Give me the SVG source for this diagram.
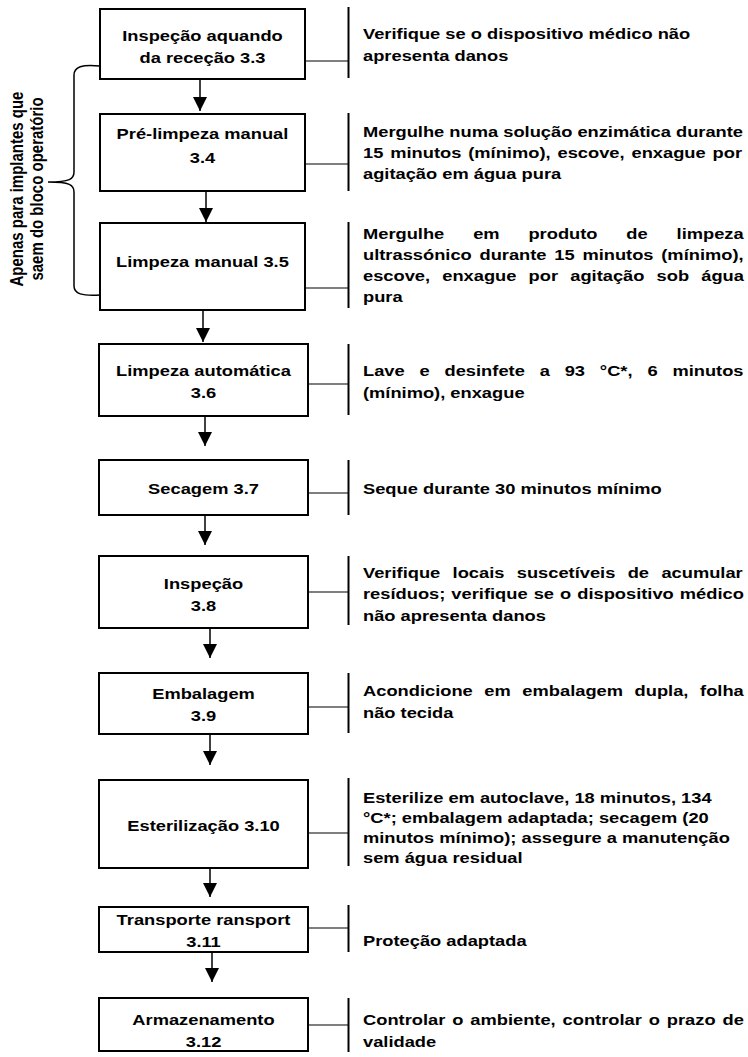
<svg xmlns="http://www.w3.org/2000/svg" width="748" height="1057" viewBox="0 0 748 1057">
  <style>
    .box { fill: #fff; stroke: #000; stroke-width: 2; }
    .t { font-family: "Liberation Sans", Arial, sans-serif; font-weight: bold; font-size: 15px; fill: #000; }
    .c { text-anchor: middle; }
    .conn { stroke: #000; stroke-width: 1.2; fill: none; }
    .bar { stroke: #000; stroke-width: 2; fill: none; }
    .shaft { stroke: #000; stroke-width: 1.5; fill: none; marker-end: url(#ah); }
    .brace { stroke: #000; stroke-width: 1.5; fill: none; }
  </style>
  <defs>
    <marker id="ah" viewBox="0 0 14 14" refX="14" refY="7" markerWidth="15" markerHeight="14" markerUnits="userSpaceOnUse" orient="auto">
      <path d="M0,0 L14,7 L0,14 z" fill="#000"/>
    </marker>
  </defs>

  <rect width="748" height="1057" fill="#fff"/>

  <!-- side note with brace spanning the first three steps -->
  <g id="note">
    <path class="brace" d="M100,66 C82,64 74,67 74,75 V172 C74,179 70,182 48,182 M48,182 C70,182 74,185 74,192 V286 C74,294 82,296 100,295"/>
    <g transform="translate(0 189) scale(1.22 1) rotate(-90)">
      <text class="t c" x="0" y="18.5">Apenas para implantes que</text>
      <text class="t c" x="0" y="35">saem do bloco operatório</text>
    </g>
  </g>

  <!-- flow arrows and side connectors -->
  <g id="connectors">
    <line class="shaft" x1="200" y1="80" x2="200" y2="111"/>
    <line class="shaft" x1="206" y1="192" x2="206" y2="222"/>
    <line class="shaft" x1="203" y1="311" x2="203" y2="342"/>
    <line class="shaft" x1="205" y1="417" x2="205" y2="446"/>
    <line class="shaft" x1="205" y1="516" x2="205" y2="545"/>
    <line class="shaft" x1="210" y1="629" x2="210" y2="658"/>
    <line class="shaft" x1="210" y1="735" x2="210" y2="765"/>
    <line class="shaft" x1="210" y1="869" x2="210" y2="897"/>
    <line class="shaft" x1="212" y1="953" x2="212" y2="982"/>

    <line class="conn" x1="305" y1="61" x2="348" y2="61"/>
    <line class="conn" x1="305" y1="164" x2="348" y2="164"/>
    <line class="conn" x1="305" y1="288" x2="348" y2="288"/>
    <line class="conn" x1="308" y1="384" x2="348" y2="384"/>
    <line class="conn" x1="308" y1="493" x2="348" y2="493"/>
    <line class="conn" x1="308" y1="592" x2="348" y2="592"/>
    <line class="conn" x1="308" y1="707" x2="348" y2="707"/>
    <line class="conn" x1="308" y1="833" x2="348" y2="833"/>
    <line class="conn" x1="308" y1="928" x2="348" y2="928"/>
    <line class="conn" x1="308" y1="1025" x2="348" y2="1025"/>

    <line class="bar" x1="348.5" y1="7" x2="348.5" y2="78"/>
    <line class="bar" x1="348.5" y1="113" x2="348.5" y2="191"/>
    <line class="bar" x1="348.5" y1="222" x2="348.5" y2="308"/>
    <line class="bar" x1="348.5" y1="344" x2="348.5" y2="415"/>
    <line class="bar" x1="348.5" y1="460" x2="348.5" y2="515"/>
    <line class="bar" x1="348.5" y1="556" x2="348.5" y2="625"/>
    <line class="bar" x1="348.5" y1="673" x2="348.5" y2="733"/>
    <line class="bar" x1="348.5" y1="778" x2="348.5" y2="866"/>
    <line class="bar" x1="348.5" y1="905" x2="348.5" y2="952"/>
    <line class="bar" x1="348.5" y1="998" x2="348.5" y2="1052"/>
  </g>

  <!-- process steps -->
  <g id="step-3-3">
    <rect class="box" x="100" y="9" width="205" height="70"/>
    <g transform="translate(202.5 0) scale(1.22 1)">
      <text class="t c" x="0" y="41.5">Inspeção aquando</text>
      <text class="t c" x="0" y="63">da receção 3.3</text>
    </g>
  </g>
  <g id="step-3-4">
    <rect class="box" x="100" y="114" width="205" height="77"/>
    <g transform="translate(202.5 0) scale(1.22 1)">
      <text class="t c" x="0" y="139">Pré-limpeza manual</text>
      <text class="t c" x="0" y="163">3.4</text>
    </g>
  </g>
  <g id="step-3-5">
    <rect class="box" x="100" y="223" width="205" height="87"/>
    <g transform="translate(202.5 0) scale(1.22 1)">
      <text class="t c" x="0" y="267">Limpeza manual 3.5</text>
    </g>
  </g>
  <g id="step-3-6">
    <rect class="box" x="99" y="344" width="209" height="72"/>
    <g transform="translate(203.5 0) scale(1.22 1)">
      <text class="t c" x="0" y="376">Limpeza automática</text>
      <text class="t c" x="0" y="398">3.6</text>
    </g>
  </g>
  <g id="step-3-7">
    <rect class="box" x="99" y="460" width="209" height="55"/>
    <g transform="translate(203.5 0) scale(1.22 1)">
      <text class="t c" x="0" y="494">Secagem 3.7</text>
    </g>
  </g>
  <g id="step-3-8">
    <rect class="box" x="99" y="556" width="209" height="72"/>
    <g transform="translate(203.5 0) scale(1.22 1)">
      <text class="t c" x="0" y="589">Inspeção</text>
      <text class="t c" x="0" y="611">3.8</text>
    </g>
  </g>
  <g id="step-3-9">
    <rect class="box" x="99" y="673" width="209" height="61"/>
    <g transform="translate(203.5 0) scale(1.22 1)">
      <text class="t c" x="0" y="699">Embalagem</text>
      <text class="t c" x="0" y="721">3.9</text>
    </g>
  </g>
  <g id="step-3-10">
    <rect class="box" x="99" y="780" width="209" height="88"/>
    <g transform="translate(203.5 0) scale(1.22 1)">
      <text class="t c" x="0" y="831">Esterilização 3.10</text>
    </g>
  </g>
  <g id="step-3-11">
    <rect class="box" x="99" y="907" width="209" height="45"/>
    <g transform="translate(203.5 0) scale(1.22 1)">
      <text class="t c" x="0" y="925">Transporte ransport</text>
      <text class="t c" x="0" y="947">3.11</text>
    </g>
  </g>
  <g id="step-3-12">
    <rect class="box" x="99" y="998" width="209" height="53"/>
    <g transform="translate(203.5 0) scale(1.22 1)">
      <text class="t c" x="0" y="1025">Armazenamento</text>
      <text class="t c" x="0" y="1047">3.12</text>
    </g>
  </g>

  <!-- instructions for each step -->
  <g id="notes" transform="translate(363 0) scale(1.22 1)">
    <text class="t" x="0" y="39.5">Verifique se o dispositivo médico não</text>
    <text class="t" x="0" y="61.5">apresenta danos</text>

    <text class="t" x="0" y="137">Mergulhe numa solução enzimática durante</text>
    <text class="t" x="0" y="158" word-spacing="1.5">15 minutos (mínimo), escove, enxague por</text>
    <text class="t" x="0" y="179">agitação em água pura</text>

    <text class="t" x="0" y="239" word-spacing="19.5">Mergulhe em produto de limpeza</text>
    <text class="t" x="0" y="260" word-spacing="2.2">ultrassónico durante 15 minutos (mínimo),</text>
    <text class="t" x="0" y="281" word-spacing="5.8">escove, enxague por agitação sob água</text>
    <text class="t" x="0" y="302">pura</text>

    <text class="t" x="0" y="376" word-spacing="8">Lave e desinfete a 93 °C*, 6 minutos</text>
    <text class="t" x="0" y="398">(mínimo), enxague</text>

    <text class="t" x="0" y="494">Seque durante 30 minutos mínimo</text>

    <text class="t" x="0" y="578" word-spacing="5.95">Verifique locais suscetíveis de acumular</text>
    <text class="t" x="0" y="599" word-spacing="0.8">resíduos; verifique se o dispositivo médico</text>
    <text class="t" x="0" y="621">não apresenta danos</text>

    <text class="t" x="0" y="696" word-spacing="5.35">Acondicione em embalagem dupla, folha</text>
    <text class="t" x="0" y="718">não tecida</text>

    <text class="t" x="0" y="803">Esterilize em autoclave, 18 minutos, 134</text>
    <text class="t" x="0" y="823">°C*; embalagem adaptada; secagem (20</text>
    <text class="t" x="0" y="843">minutos mínimo); assegure a manutenção</text>
    <text class="t" x="0" y="863">sem água residual</text>

    <text class="t" x="0" y="946">Proteção adaptada</text>

    <text class="t" x="0" y="1025" word-spacing="1.5">Controlar o ambiente, controlar o prazo de</text>
    <text class="t" x="0" y="1047">validade</text>
  </g>
</svg>
